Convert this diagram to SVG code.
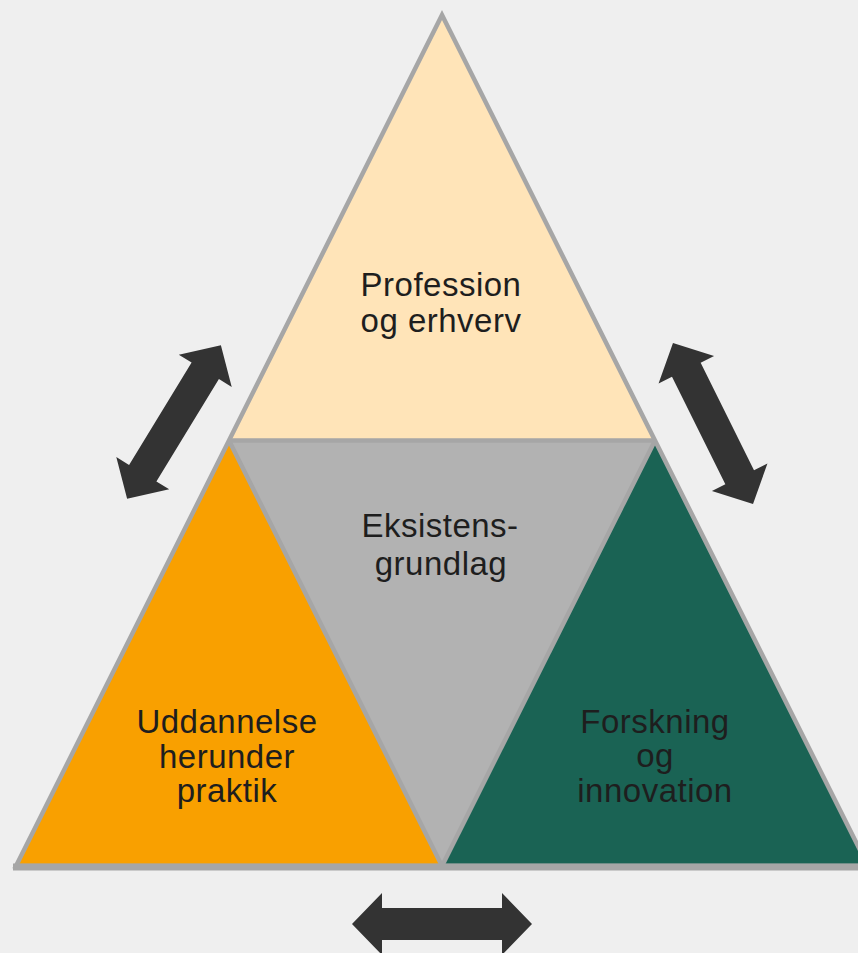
<svg xmlns="http://www.w3.org/2000/svg" xmlns:xlink="http://www.w3.org/1999/xlink" width="858" height="953" viewBox="0 0 858 953">
  <style>
    .lbl { font-family: "Liberation Sans", Arial, sans-serif; font-size: 33px; fill: #1e1e1e; text-anchor: middle; letter-spacing: 0.5px; }
    .edge { fill: none; stroke: #a6a6a6; stroke-width: 4.5; }
    .arrow { fill: #333333; }
  </style>
  <defs>
    <polygon id="dblarrow" points="-90,0 -60,-31 -60,-16 60,-16 60,-31 90,0 60,31 60,16 -60,16 -60,31"/>
  </defs>
  <rect x="0" y="0" width="858" height="953" fill="#efefef"/>

  <g id="node-profession">
    <polygon points="442,15 229,440.5 655,440.5" fill="#ffe4b8"/>
    <text class="lbl" x="441" y="296">Profession</text>
    <text class="lbl" x="441" y="332">og erhverv</text>
  </g>
  <g id="node-eksistensgrundlag">
    <polygon points="229,440.5 655,440.5 442,866" fill="#b2b2b2"/>
    <text class="lbl" x="440" y="537">Eksistens-</text>
    <text class="lbl" x="441" y="575">grundlag</text>
  </g>
  <g id="node-uddannelse">
    <polygon points="229,440.5 16,866 442,866" fill="#f9a000"/>
    <text class="lbl" x="227" y="733">Uddannelse</text>
    <text class="lbl" x="227" y="768">herunder</text>
    <text class="lbl" x="227" y="802">praktik</text>
  </g>
  <g id="node-forskning">
    <polygon points="655,440.5 442,866 868,866" fill="#1a6354"/>
    <text class="lbl" x="655" y="733">Forskning</text>
    <text class="lbl" x="655" y="767">og</text>
    <text class="lbl" x="655" y="802">innovation</text>
  </g>

  <g id="edges">
    <polygon class="edge" points="442,15 16,866 868,866"/>
    <line class="edge" x1="229" y1="440.5" x2="655" y2="440.5"/>
    <line class="edge" x1="229" y1="440.5" x2="442" y2="866"/>
    <line class="edge" x1="655" y1="440.5" x2="442" y2="866"/>
    <line x1="13" y1="867" x2="858" y2="867" stroke="#a6a6a6" stroke-width="7"/>
  </g>

  <g id="connectors">
    <use xlink:href="#dblarrow" class="arrow" transform="translate(174,422) rotate(-58.6)"/>
    <use xlink:href="#dblarrow" class="arrow" transform="translate(713,423.5) rotate(63.6)"/>
    <use xlink:href="#dblarrow" class="arrow" transform="translate(442,924)"/>
  </g>
</svg>
